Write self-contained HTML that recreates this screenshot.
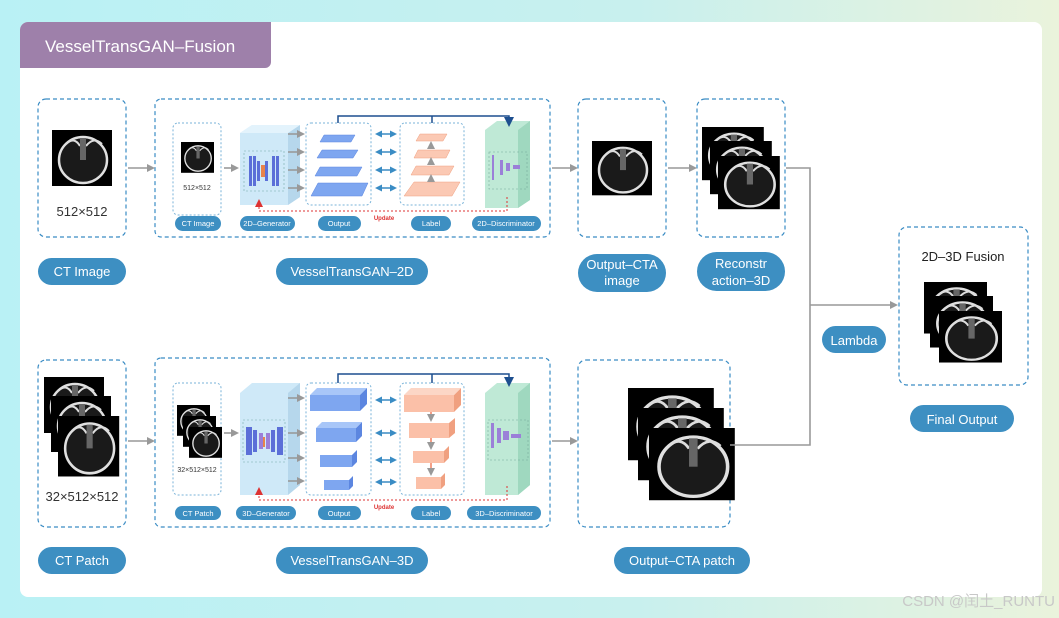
<!DOCTYPE html>
<html><head><meta charset="utf-8"><style>
body{margin:0;width:1059px;height:618px;overflow:hidden;background:linear-gradient(90deg,#b9f1f5 0%,#c8f0ee 60%,#eaf3dc 100%);font-family:"Liberation Sans","Noto Sans CJK SC",sans-serif}
svg{position:absolute;left:0;top:0}
</style></head><body>
<svg width="1059" height="618" viewBox="0 0 1059 618" font-family="Liberation Sans, Noto Sans CJK SC, sans-serif">
<defs>
<g id="b"><rect width="60" height="56" fill="#000"/><ellipse cx="31" cy="30" rx="24" ry="23" fill="#1a1a1a" stroke="#e0e0e0" stroke-width="2.5"/><path d="M14 14 Q22 6 28 16 M34 16 Q42 6 50 14" stroke="#ddd" stroke-width="2" fill="none"/><rect x="28" y="8" width="6" height="22" fill="#666"/></g>
<marker id="ag" markerWidth="8" markerHeight="8" refX="6" refY="4" orient="auto" markerUnits="userSpaceOnUse"><path d="M0 0L8 4L0 8z" fill="#999"/></marker>
<marker id="ar" markerWidth="8" markerHeight="8" refX="4" refY="4" orient="auto" markerUnits="userSpaceOnUse"><path d="M0 0L8 4L0 8z" fill="#d33"/></marker>
<marker id="an" markerWidth="10" markerHeight="10" refX="5" refY="5" orient="auto" markerUnits="userSpaceOnUse"><path d="M0 0L10 5L0 10z" fill="#1d4f8f"/></marker>
<marker id="ab" markerWidth="7" markerHeight="7" refX="5" refY="3.5" orient="auto-start-reverse" markerUnits="userSpaceOnUse"><path d="M0 0L7 3.5L0 7z" fill="#3a8cc4"/></marker>
</defs>
<rect x="20" y="22" width="1022" height="575" rx="8" fill="#fff"/>
<path d="M20 68 V30 a8 8 0 0 1 8 -8 H271 V62 a6 6 0 0 1 -6 6 Z" fill="#9e80aa"/>
<text x="45" y="52" font-size="17" fill="#fff">VesselTransGAN–Fusion</text>

<g fill="none" stroke="#3a8cc4" stroke-width="1.2" stroke-dasharray="4 3">
<rect x="38" y="99" width="88" height="138" rx="8"/>
<rect x="155" y="99" width="395" height="138" rx="6"/>
<rect x="578" y="99" width="88" height="138" rx="8"/>
<rect x="697" y="99" width="88" height="138" rx="8"/>
<rect x="899" y="227" width="129" height="158" rx="8"/>
<rect x="38" y="360" width="88" height="167" rx="8"/>
<rect x="155" y="358" width="395" height="169" rx="6"/>
<rect x="578" y="360" width="152" height="167" rx="8"/>
</g>
<g fill="none" stroke="#7ab3d8" stroke-width="1" stroke-dasharray="2 2">
<rect x="173" y="123" width="48" height="92" rx="5"/>
<rect x="306" y="123" width="65" height="82" rx="5"/>
<rect x="400" y="123" width="64" height="82" rx="5"/>
<rect x="173" y="383" width="48" height="112" rx="5"/>
<rect x="306" y="383" width="65" height="112" rx="5"/>
<rect x="400" y="383" width="64" height="112" rx="5"/>
</g>

<!-- images -->
<use href="#b" transform="translate(52,130)"/>
<text x="82" y="216" font-size="13" fill="#333" text-anchor="middle">512×512</text>
<use href="#b" transform="translate(181,142) scale(0.55)"/>
<text x="197" y="190" font-size="7" fill="#333" text-anchor="middle">512×512</text>
<use href="#b" transform="translate(592,141) scale(1,0.97)"/>
<use href="#b" transform="translate(702,127) scale(1.03,0.95)"/>
<use href="#b" transform="translate(710,141) scale(1.03,0.95)"/>
<use href="#b" transform="translate(718,156) scale(1.03,0.95)"/>
<use href="#b" transform="translate(44,377)"/>
<use href="#b" transform="translate(51,396)"/>
<use href="#b" transform="translate(58,416) scale(1.02,1.08)"/>
<text x="82" y="501" font-size="13" fill="#333" text-anchor="middle">32×512×512</text>
<use href="#b" transform="translate(177,405) scale(0.55)"/>
<use href="#b" transform="translate(183,416) scale(0.55)"/>
<use href="#b" transform="translate(189,427) scale(0.55)"/>
<text x="197" y="472" font-size="7" fill="#333" text-anchor="middle">32×512×512</text>
<use href="#b" transform="translate(628,388) scale(1.43,1.29)"/>
<use href="#b" transform="translate(638,408) scale(1.43,1.29)"/>
<use href="#b" transform="translate(649,428) scale(1.43,1.29)"/>
<text x="963" y="261" font-size="13" fill="#222" text-anchor="middle">2D–3D Fusion</text>
<use href="#b" transform="translate(924,282) scale(1.05,0.92)"/>
<use href="#b" transform="translate(930,296) scale(1.05,0.92)"/>
<use href="#b" transform="translate(939,311) scale(1.05,0.92)"/>

<!-- generator 2D -->
<path d="M240 133 L252 125 H300 V197 L288 205 H240Z" fill="#cfe9f8"/>
<path d="M288 133 L300 125 V197 L288 205Z" fill="#b6d7ec"/>
<path d="M240 133 L252 125 H300 L288 133Z" fill="#e3f3fc"/>
<rect x="244" y="151" width="40" height="40" fill="none" stroke="#7aa" stroke-dasharray="2 2" stroke-width=".6"/>
<g fill="#5b6fd8"><rect x="249" y="156" width="3" height="30"/><rect x="253" y="156" width="3" height="30"/><rect x="257" y="161" width="3" height="20"/><rect x="265" y="161" width="3" height="20"/><rect x="272" y="156" width="3" height="30"/><rect x="276" y="156" width="3" height="30"/></g>
<rect x="261" y="165" width="4" height="12" fill="#e8834a"/>
<!-- disc 2D -->
<path d="M485 130 L497 121 H530 V200 L518 208 H485Z" fill="#bfe9d6"/>
<path d="M518 130 L530 121 V200 L518 208Z" fill="#9fd8bf"/>
<rect x="489" y="152" width="38" height="37" fill="none" stroke="#7a9" stroke-dasharray="2 2" stroke-width=".6"/>
<g fill="#9b7fd8"><rect x="492" y="155" width="2" height="25"/><rect x="500" y="160" width="3" height="15"/><rect x="506" y="163" width="4" height="8"/><rect x="513" y="165" width="7" height="4"/></g>
<!-- output layers 2D -->
<g fill="#7ea6f0" stroke="#5c86e0" stroke-width=".5">
<path d="M324 135 H355 L351 142 H320Z"/><path d="M322 150 H358 L353 158 H317Z"/><path d="M320 167 H362 L357 176 H315Z"/><path d="M318 183 H368 L362 196 H311Z"/></g>
<g fill="#fbc9b4" stroke="#f0a080" stroke-width=".5">
<path d="M420 134 H447 L443 141 H416Z"/><path d="M418 150 H450 L446 158 H414Z"/><path d="M416 166 H454 L449 175 H411Z"/><path d="M414 182 H460 L452 196 H404Z"/></g>
<g stroke="#f08060" stroke-width="1.5" marker-end="url(#ag)"><line x1="431" y1="149" x2="431" y2="143"/><line x1="431" y1="165" x2="431" y2="159"/><line x1="431" y1="181" x2="431" y2="176"/></g>
<!-- generator 3D -->
<path d="M240 393 L252 383 H300 V485 L288 495 H240Z" fill="#cfe9f8"/>
<path d="M288 393 L300 383 V485 L288 495Z" fill="#b6d7ec"/>
<rect x="243" y="420" width="42" height="42" fill="none" stroke="#7aa" stroke-dasharray="2 2" stroke-width=".6"/>
<g fill="#5b6fd8"><rect x="246" y="427" width="6" height="28"/><rect x="253" y="430" width="4" height="22"/><rect x="259" y="433" width="4" height="16" fill="#9b7fd8"/><rect x="266" y="433" width="4" height="16" fill="#9b7fd8"/><rect x="271" y="430" width="4" height="22"/><rect x="277" y="427" width="6" height="28"/></g>
<rect x="263" y="437" width="2" height="10" fill="#e8834a"/>
<path d="M485 393 L497 383 H530 V485 L518 495 H485Z" fill="#bfe9d6"/>
<path d="M518 393 L530 383 V485 L518 495Z" fill="#9fd8bf"/>
<rect x="488" y="420" width="40" height="40" fill="none" stroke="#7a9" stroke-dasharray="2 2" stroke-width=".6"/>
<g fill="#9b7fd8"><rect x="491" y="423" width="3" height="25"/><rect x="497" y="428" width="4" height="15"/><rect x="503" y="431" width="6" height="9"/><rect x="511" y="434" width="10" height="4"/></g>
<g fill="#7ea6f0"><path d="M310 395 H360 L367 388 H317Z" fill="#a8c6f8"/><rect x="310" y="395" width="50" height="16"/><path d="M360 395 L367 388 V404 L360 411Z" fill="#5c86e0"/>
<rect x="316" y="428" width="40" height="14"/><path d="M356 428 L362 422 V436 L356 442Z" fill="#5c86e0"/><path d="M316 428 H356 L362 422 H322Z" fill="#a8c6f8"/>
<rect x="320" y="455" width="32" height="12"/><path d="M352 455 L357 450 V462 L352 467Z" fill="#5c86e0"/>
<rect x="324" y="480" width="25" height="10"/><path d="M349 480 L353 476 V486 L349 490Z" fill="#5c86e0"/></g>
<g fill="#fbc0a8"><rect x="404" y="395" width="50" height="17"/><path d="M454 395 L461 388 V405 L454 412Z" fill="#f0a080"/><path d="M404 395 H454 L461 388 H411Z" fill="#fcd6c6"/>
<rect x="409" y="423" width="40" height="15"/><path d="M449 423 L455 418 V433 L449 438Z" fill="#f0a080"/>
<rect x="413" y="451" width="31" height="12"/><path d="M444 451 L449 446 V458 L444 463Z" fill="#f0a080"/>
<rect x="416" y="477" width="25" height="12"/><path d="M441 477 L445 473 V485 L441 489Z" fill="#f0a080"/></g>
<g stroke="#f08060" stroke-width="1.5" marker-end="url(#ag)"><line x1="431" y1="412" x2="431" y2="420"/><line x1="431" y1="438" x2="431" y2="448"/><line x1="431" y1="463" x2="431" y2="474"/></g>

<!-- arrows gray -->
<g stroke="#999" stroke-width="1.6" fill="none" marker-end="url(#ag)">
<line x1="128" y1="168" x2="153" y2="168"/><line x1="224" y1="168" x2="237" y2="168"/>
<line x1="288" y1="134" x2="303" y2="134"/><line x1="288" y1="152" x2="303" y2="152"/><line x1="288" y1="170" x2="303" y2="170"/><line x1="288" y1="188" x2="303" y2="188"/>
<line x1="552" y1="168" x2="576" y2="168"/><line x1="668" y1="168" x2="695" y2="168"/>
<line x1="128" y1="441" x2="153" y2="441"/><line x1="224" y1="433" x2="237" y2="433"/>
<line x1="288" y1="398" x2="303" y2="398"/><line x1="288" y1="433" x2="303" y2="433"/><line x1="288" y1="458" x2="303" y2="458"/><line x1="288" y1="481" x2="303" y2="481"/>
<line x1="552" y1="441" x2="576" y2="441"/>
<path d="M786 168 H810 V445 H730" marker-end="none"/>
<line x1="810" y1="305" x2="896" y2="305"/>
</g>
<g stroke="#3a8cc4" stroke-width="1.5" marker-start="url(#ab)" marker-end="url(#ab)">
<line x1="377" y1="134" x2="395" y2="134"/><line x1="377" y1="152" x2="395" y2="152"/><line x1="377" y1="170" x2="395" y2="170"/><line x1="377" y1="188" x2="395" y2="188"/>
<line x1="377" y1="400" x2="395" y2="400"/><line x1="377" y1="433" x2="395" y2="433"/><line x1="377" y1="460" x2="395" y2="460"/><line x1="377" y1="482" x2="395" y2="482"/>
</g>
<g stroke="#1d4f8f" stroke-width="1.5" fill="none">
<path d="M338 123 V116 H509 V122" marker-end="url(#an)"/><line x1="432" y1="116" x2="432" y2="123"/>
<path d="M338 383 V374 H509 V382" marker-end="url(#an)"/><line x1="432" y1="374" x2="432" y2="383"/>
</g>
<g stroke="#d33" stroke-width="1" stroke-dasharray="2 2" fill="none">
<path d="M507 197 V211 H259 V203" marker-end="url(#ar)"/>
<path d="M507 486 V500 H259 V491" marker-end="url(#ar)"/>
</g>
<text x="384" y="220" font-size="6" fill="#d33" font-weight="bold" text-anchor="middle">Update</text>
<text x="384" y="509" font-size="6" fill="#d33" font-weight="bold" text-anchor="middle">Update</text>

<!-- small pills -->
<g fill="#3d8fc2">
<rect x="175" y="216" width="46" height="15" rx="7.5"/><rect x="240" y="216" width="55" height="15" rx="7.5"/><rect x="318" y="216" width="43" height="15" rx="7.5"/><rect x="411" y="216" width="40" height="15" rx="7.5"/><rect x="472" y="216" width="69" height="15" rx="7.5"/>
<rect x="175" y="506" width="46" height="14" rx="7"/><rect x="236" y="506" width="60" height="14" rx="7"/><rect x="318" y="506" width="43" height="14" rx="7"/><rect x="411" y="506" width="40" height="14" rx="7"/><rect x="467" y="506" width="74" height="14" rx="7"/>
</g>
<g fill="#fff" font-size="7.5" text-anchor="middle">
<text x="198" y="226">CT Image</text><text x="267" y="226">2D–Generator</text><text x="339" y="226">Output</text><text x="431" y="226">Label</text><text x="506" y="226">2D–Discriminator</text>
<text x="198" y="516">CT Patch</text><text x="266" y="516">3D–Generator</text><text x="339" y="516">Output</text><text x="431" y="516">Label</text><text x="504" y="516">3D–Discriminator</text>
</g>
<!-- big pills -->
<g fill="#3d8fc2">
<rect x="38" y="258" width="88" height="27" rx="13.5"/><rect x="276" y="258" width="152" height="27" rx="13.5"/>
<rect x="578" y="254" width="88" height="38" rx="19"/><rect x="697" y="252" width="88" height="39" rx="19.5"/>
<rect x="822" y="326" width="64" height="27" rx="13.5"/><rect x="910" y="405" width="104" height="27" rx="13.5"/>
<rect x="38" y="547" width="88" height="27" rx="13.5"/><rect x="276" y="547" width="152" height="27" rx="13.5"/><rect x="614" y="547" width="136" height="27" rx="13.5"/>
</g>
<g fill="#fff" font-size="13" text-anchor="middle">
<text x="82" y="276">CT Image</text><text x="352" y="276">VesselTransGAN–2D</text>
<text x="622" y="269">Output–CTA</text><text x="622" y="285">image</text>
<text x="741" y="268">Reconstr</text><text x="741" y="285">action–3D</text>
<text x="854" y="345">Lambda</text><text x="962" y="424">Final Output</text>
<text x="82" y="565">CT Patch</text><text x="352" y="565">VesselTransGAN–3D</text><text x="682" y="565">Output–CTA patch</text>
</g>
<text x="1055" y="606" font-size="15" fill="#c8c8c8" text-anchor="end">CSDN @闰土_RUNTU</text>
</svg>
</body></html>
